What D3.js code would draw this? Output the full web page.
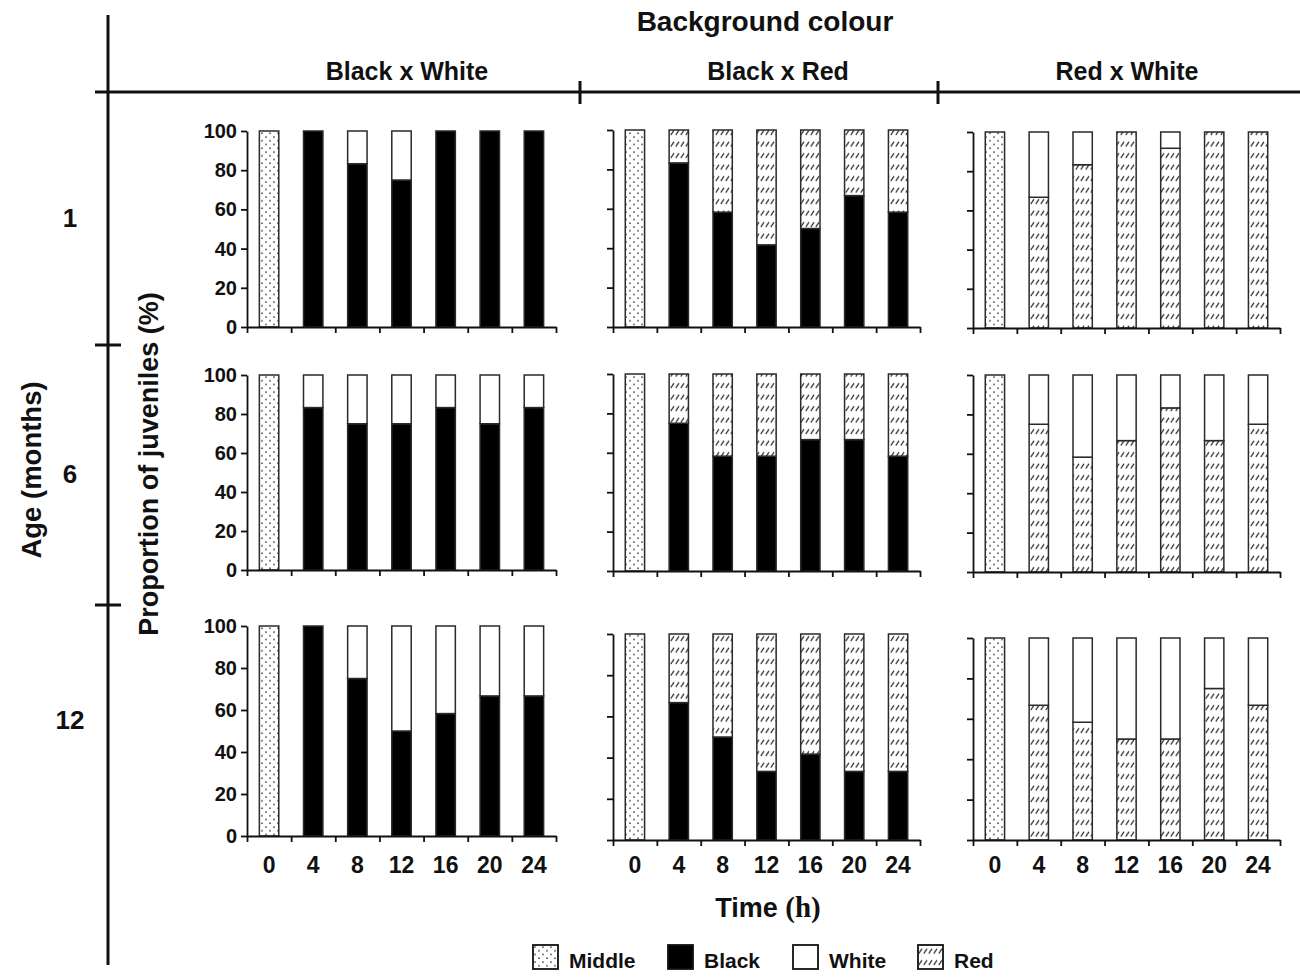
<!DOCTYPE html>
<html>
<head>
<meta charset="utf-8">
<script src="https://cdn.jsdelivr.net/npm/d3@7"></script>
<style>
  body { margin: 0; background: #fff; }
  svg text { font-family: "Liberation Sans", Arial, sans-serif; font-weight: bold; fill: #111; }
</style>
</head>
<body>
<div id="chart"></div>
<script>
// ---- data ----
const backgrounds = ["Black x White", "Black x Red", "Red x White"];
const ages = ["1", "6", "12"];
const times = ["0", "4", "8", "12", "16", "20", "24"];
const yTicks = [0, 20, 40, 60, 80, 100];
const middleAt0 = 100; // at 0 h every juvenile sits in the middle

// % of juveniles on the first colour of the pair at 4..24 h, the rest on the second one
const bw1 = [100, 83.3, 75, 100, 100, 100];
const br1 = [83.3, 58.3, 41.7, 50, 66.7, 58.3];
const rw1 = [66.7, 83.3, 100, 91.7, 100, 100];
const bw6 = [83.3, 75, 75, 83.3, 75, 83.3];
const br6 = [75, 58.3, 58.3, 66.7, 66.7, 58.3];
const rw6 = [75, 58.3, 66.7, 83.3, 66.7, 75];
const bw12 = [100, 75, 50, 58.3, 66.7, 66.7];
const br12 = [66.7, 50, 33.3, 41.7, 33.3, 33.3];
const rw12 = [66.7, 58.3, 50, 50, 75, 66.7];

const pairs = [["Black", "White"], ["Black", "Red"], ["Red", "White"]];
const panelValues = [[bw1, br1, rw1], [bw6, br6, rw6], [bw12, br12, rw12]];
const legendKeys = ["Middle", "Black", "White", "Red"];

// ---- layout ----
const width = 1300, height = 977;
const colX = [[247, 556], [613, 920], [973, 1280]];
const rowY = [
  [[131, 327], [130, 327], [132, 328]],
  [[375, 570], [374, 571], [375, 572]],
  [[626, 836], [634, 840], [638, 840]]
];
const titleX = [407, 778, 1127];
const ageY = [227, 483, 729];
const legendX = [533, 668, 793, 918];

const svg = d3.select("#chart").append("svg")
  .attr("width", width)
  .attr("height", height);

// patterns
const defs = svg.append("defs");
const dots = defs.append("pattern")
  .attr("id", "dots")
  .attr("patternUnits", "userSpaceOnUse")
  .attr("width", 8).attr("height", 7.5);
dots.append("rect").attr("width", 8).attr("height", 7.5).attr("fill", "#fff");
dots.append("circle").attr("cx", 2).attr("cy", 2).attr("r", 0.8).attr("fill", "#333");
dots.append("circle").attr("cx", 6).attr("cy", 5.75).attr("r", 0.8).attr("fill", "#333");

const hatch = defs.append("pattern")
  .attr("id", "hatch")
  .attr("patternUnits", "userSpaceOnUse")
  .attr("width", 5).attr("height", 11.5);
hatch.append("rect").attr("width", 5).attr("height", 11.5).attr("fill", "#fff");
hatch.append("line")
  .attr("x1", 0.8).attr("y1", 8.5).attr("x2", 4).attr("y2", 3.8)
  .attr("stroke", "#333").attr("stroke-width", 1.3);

const fills = { Middle: "url(#dots)", Black: "#000", White: "#fff", Red: "url(#hatch)" };

// frame lines
const frame = svg.append("g").attr("stroke", "#111").attr("stroke-width", 3);
frame.append("line").attr("x1", 108).attr("x2", 108).attr("y1", 15).attr("y2", 965);
frame.append("line").attr("x1", 95).attr("x2", 1300).attr("y1", 92).attr("y2", 92);
[580, 938].forEach(x => frame.append("line").attr("x1", x).attr("x2", x).attr("y1", 81).attr("y2", 104));
[345, 605].forEach(y => frame.append("line").attr("x1", 95).attr("x2", 121).attr("y1", y).attr("y2", y));

// titles
svg.append("text")
  .attr("x", 765).attr("y", 31)
  .attr("text-anchor", "middle")
  .style("font-size", "28px")
  .text("Background colour");

svg.selectAll(".col-title")
  .data(backgrounds)
  .enter()
  .append("text")
  .attr("class", "col-title")
  .attr("x", (d, i) => titleX[i])
  .attr("y", 80)
  .attr("text-anchor", "middle")
  .style("font-size", "25px")
  .text(d => d);

svg.selectAll(".age")
  .data(ages)
  .enter()
  .append("text")
  .attr("class", "age")
  .attr("x", 70)
  .attr("y", (d, i) => ageY[i])
  .attr("text-anchor", "middle")
  .style("font-size", "26px")
  .text(d => d);

svg.append("text")
  .attr("transform", "translate(31,470) rotate(-90)")
  .attr("text-anchor", "middle")
  .attr("dominant-baseline", "central")
  .style("font-size", "27.5px")
  .text("Age (months)");

svg.append("text")
  .attr("transform", "translate(149,464) rotate(-90)")
  .attr("text-anchor", "middle")
  .attr("dominant-baseline", "central")
  .style("font-size", "27px")
  .text("Proportion of juveniles (%)");

// panels
panelValues.forEach((rowVals, r) => {
  rowVals.forEach((vals, c) => {
    const pair = pairs[c];
    const [top, bottom] = [rowY[r][c][0], rowY[r][c][1]];

    const x = d3.scaleBand()
      .domain(times)
      .range(colX[c])
      .paddingInner(0.56)
      .paddingOuter(0.28);
    const y = d3.scaleLinear().domain([0, 100]).range([bottom, top]);

    const rows = times.map((t, i) => {
      const row = { time: t, Middle: 0, Black: 0, White: 0, Red: 0 };
      if (i === 0) {
        row.Middle = middleAt0;
      } else {
        row[pair[0]] = vals[i - 1];
        row[pair[1]] = 100 - vals[i - 1];
      }
      return row;
    });
    const series = d3.stack().keys(["Middle", "Black", "Red", "White"])(rows);

    const g = svg.append("g");

    series.forEach(s => {
      g.selectAll(null)
        .data(s.filter(d => d[1] - d[0] > 0))
        .enter()
        .append("rect")
        .attr("x", d => x(d.data.time))
        .attr("y", d => y(d[1]))
        .attr("width", x.bandwidth())
        .attr("height", d => y(d[0]) - y(d[1]))
        .attr("fill", fills[s.key])
        .attr("stroke", "#2a2a2a")
        .attr("stroke-width", 1.5);
    });

    // y axis
    const yAxis = d3.axisLeft(y)
      .tickValues(yTicks)
      .tickSize(6)
      .tickSizeOuter(0)
      .tickPadding(4)
      .tickFormat(c === 0 ? d3.format("d") : () => "");
    g.append("g")
      .attr("transform", `translate(${colX[c][0]},0)`)
      .call(yAxis)
      .call(a => a.selectAll("path, line").attr("stroke", "#111").attr("stroke-width", 1.8))
      .call(a => a.selectAll("text").style("font-size", "20px").attr("fill", "#111"));

    // x axis, ticks between bars
    const xb = d3.scaleLinear().domain([0, times.length]).range(colX[c]);
    g.append("g")
      .attr("transform", `translate(0,${bottom})`)
      .call(d3.axisBottom(xb).tickValues(times.map((t, i) => i).concat(times.length)).tickSize(6).tickSizeOuter(0).tickFormat(""))
      .call(a => a.selectAll("path, line").attr("stroke", "#111").attr("stroke-width", 1.8));

    if (r === 2) {
      g.selectAll(".xlab")
        .data(times)
        .enter()
        .append("text")
        .attr("x", d => x(d) + x.bandwidth() / 2)
        .attr("y", 873)
        .attr("text-anchor", "middle")
        .style("font-size", "23px")
        .text(d => d);
    }
  });
});

// x title
const tt = svg.append("text")
  .attr("x", 768).attr("y", 917)
  .attr("text-anchor", "middle")
  .style("font-size", "27px");
tt.append("tspan").text("Time ");
tt.append("tspan").style("font-family", "'Liberation Serif', 'Times New Roman', serif").style("font-size", "29px").text("(h)");

// legend
const leg = svg.selectAll(".legend")
  .data(legendKeys)
  .enter()
  .append("g")
  .attr("class", "legend")
  .attr("transform", (d, i) => `translate(${legendX[i]},945)`);
leg.append("rect")
  .attr("width", 25).attr("height", 24)
  .attr("fill", d => fills[d])
  .attr("stroke", "#111")
  .attr("stroke-width", 1.8);
leg.append("text")
  .attr("x", 36).attr("y", 23)
  .style("font-size", "21px")
  .text(d => d);
</script>
</body>
</html>
